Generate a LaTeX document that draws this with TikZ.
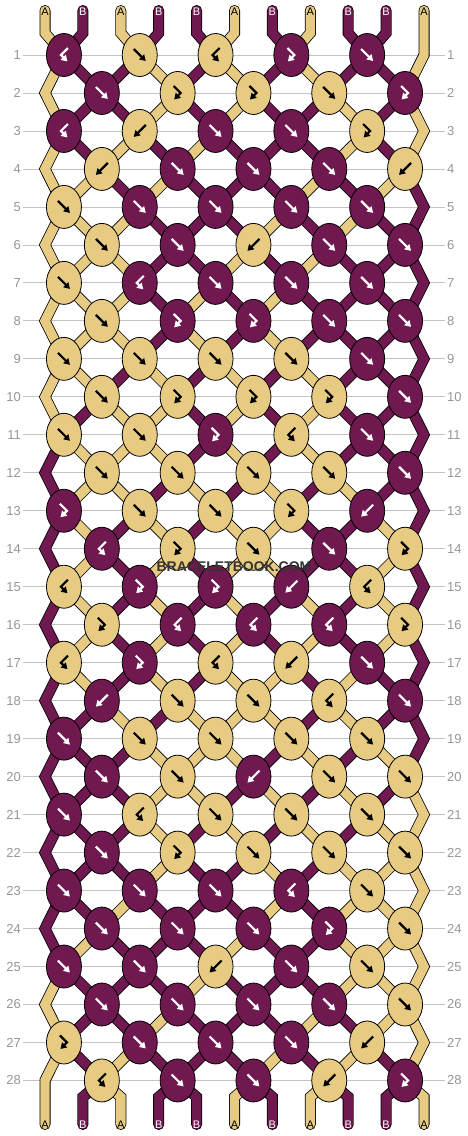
\documentclass[tikz,border=0pt]{standalone}
\usepackage{fontspec}
\setmainfont{Liberation Sans}
\usetikzlibrary{shapes.geometric, arrows.meta}
\pgfdeclarelayer{bg}
\pgfsetlayers{bg,main}

\definecolor{strA}{RGB}{232,203,130}
\definecolor{strB}{RGB}{112,24,80}
\colorlet{inkA}{black}
\colorlet{inkB}{white}
\definecolor{rowgray}{RGB}{150,150,150}
\definecolor{linegray}{RGB}{195,195,195}

\tikzset{
  knot/.style={ellipse, draw, line width=0.8pt, fill=str#1, minimum width=35pt, minimum height=43pt, inner sep=0pt},
  strand/.style={double=str#1, double distance=9.4pt, line width=0.8pt, line cap=round, line join=miter},
  glyph/.style={draw=ink#1, line width=2.2pt, -{Triangle[length=6pt, width=7pt]}},
  tag/.style={inner sep=0pt, text=ink#1, font=\fontsize{11}{11}\selectfont},
}
\tikzstyle{rownum} = [inner sep=2pt, text=rowgray, font=\fontsize{13}{13}\selectfont]
\tikzstyle{rowline} = [draw=linegray, line width=0.8pt]

% colour and path so far of string n: \str<n>, \sp<n>
\newcommand{\strcol}[1]{\csname str#1\endcsname}

\begin{document}
\begin{tikzpicture}[x=1pt, y=-1pt]
  \useasboundingbox (0,0) rectangle (468,1136);

  % Row numbers and lines
  \foreach \r in {1,...,28} {
    \pgfmathsetmacro{\y}{55+(\r-1)*37.98}
    \node[rownum, anchor=east] (nl-\r) at (23,\y) {\r};
    \node[rownum, anchor=west] (nr-\r) at (445,\y) {\r};
    \begin{pgfonlayer}{bg}
      \draw[rowline] (nl-\r) -- (nr-\r);
    \end{pgfonlayer}
  }

  % String ends
  \foreach \c [count=\p] in {A,B,A,B,B,A,B,A,B,B,A} {
    \pgfmathsetmacro{\x}{45+(\p-1)*37.9}
    \coordinate (t-\p) at (\x,10.5);
    \coordinate (tb-\p) at (\x,33);
    \coordinate (bb-\p) at (\x,1097);
    \coordinate (b-\p) at (\x,1124.5);
    \node[tag=\c] (top-\p) at (\x,12) {\c};
    \expandafter\xdef\csname str\p\endcsname{\c}
    \expandafter\xdef\csname sp\p\endcsname{(t-\p) -- (tb-\p)}
  }

  % Knots, row by row: 1 = f, 2 = b, 3 = fb, 4 = bf
  \foreach \row [count=\r] in {
      {4,1,4,3,1}, {1,3,3,1,3}, {4,2,1,1,3}, {2,1,1,1,2},
      {1,1,1,1,1}, {1,1,2,1,1}, {1,4,1,1,1}, {1,3,3,1,1},
      {1,1,1,1,1}, {1,3,3,3,1}, {1,1,3,4,1}, {1,1,1,1,1},
      {3,1,1,3,2}, {4,3,1,1,3}, {4,3,3,2,4}, {3,4,4,4,3},
      {4,3,4,2,1}, {2,1,1,4,1}, {1,1,1,1,1}, {1,1,2,1,1},
      {1,4,1,1,1}, {1,3,1,1,1}, {1,1,1,4,1}, {1,1,1,3,1},
      {1,1,2,1,1}, {1,1,1,1,1}, {3,1,1,1,2}, {4,1,1,2,3}} {
    \pgfmathsetmacro{\y}{55+(\r-1)*37.98}
    \pgfmathtruncatemacro{\off}{1-mod(\r,2)}
    \foreach \kind [count=\k] in \row {
      \pgfmathtruncatemacro{\p}{2*\k-1+\off}
      \pgfmathtruncatemacro{\q}{\p+1}
      \edef\lc{\strcol{\p}}\edef\rc{\strcol{\q}}
      \ifcase\kind\relax\or
        \edef\kc{\lc}\edef\nl{\rc}\edef\nr{\lc}% f
      \or
        \edef\kc{\rc}\edef\nl{\rc}\edef\nr{\lc}% b
      \or
        \edef\kc{\lc}\edef\nl{\lc}\edef\nr{\rc}% fb
      \or
        \edef\kc{\rc}\edef\nl{\lc}\edef\nr{\rc}% bf
      \fi
      \node[knot=\kc] (k-\r-\k) at ({45+(\p-0.5)*37.9},\y) {};

      % strings into the knot
      \begin{pgfonlayer}{bg}
        \edef\tmp{\noexpand\draw[strand=\lc] \csname sp\p\endcsname -- (k-\r-\k.center);
          \noexpand\draw[strand=\rc] \csname sp\q\endcsname -- (k-\r-\k.center);}
        \tmp
      \end{pgfonlayer}

      % arrow
      \ifcase\kind\relax\or
        \draw[glyph=\kc, shift={(k-\r-\k.center)}] (-6,-6) -- (6,6);
      \or
        \draw[glyph=\kc, shift={(k-\r-\k.center)}] (6,-6) -- (-6,6);
      \or
        \draw[glyph=\kc, shift={(k-\r-\k.center)}] (-4,-7) -- (3,0) -- (-3.5,6.5);
      \or
        \draw[glyph=\kc, shift={(k-\r-\k.center)}] (4,-7) -- (-3,0) -- (3.5,6.5);
      \fi

      \expandafter\xdef\csname str\p\endcsname{\nl}
      \expandafter\xdef\csname str\q\endcsname{\nr}
      \expandafter\xdef\csname sp\p\endcsname{(k-\r-\k.center)}
      \expandafter\xdef\csname sp\q\endcsname{(k-\r-\k.center)}
    }
    % outer string that skips this row
    \ifodd\r\relax
      \coordinate (e-\r) at (424,\y);
      \expandafter\xdef\csname sp11\endcsname{\csname sp11\endcsname\space -- (e-\r)}
    \else
      \coordinate (e-\r) at (45,\y);
      \expandafter\xdef\csname sp1\endcsname{\csname sp1\endcsname\space -- (e-\r)}
    \fi
  }

  % Loose ends
  \foreach \p in {1,...,11} {
    \edef\c{\strcol{\p}}
    \begin{pgfonlayer}{bg}
      \edef\tmp{\noexpand\draw[strand=\c] \csname sp\p\endcsname -- (bb-\p) -- (b-\p);}
      \tmp
    \end{pgfonlayer}
    \node[tag=\c] (bot-\p) at (b-\p) {\c};
  }

  \node[font=\bfseries\fontsize{14}{14}\selectfont, text=black!80] (wm) at (234,567) {BRACELETBOOK.COM};
\end{tikzpicture}
\end{document}
